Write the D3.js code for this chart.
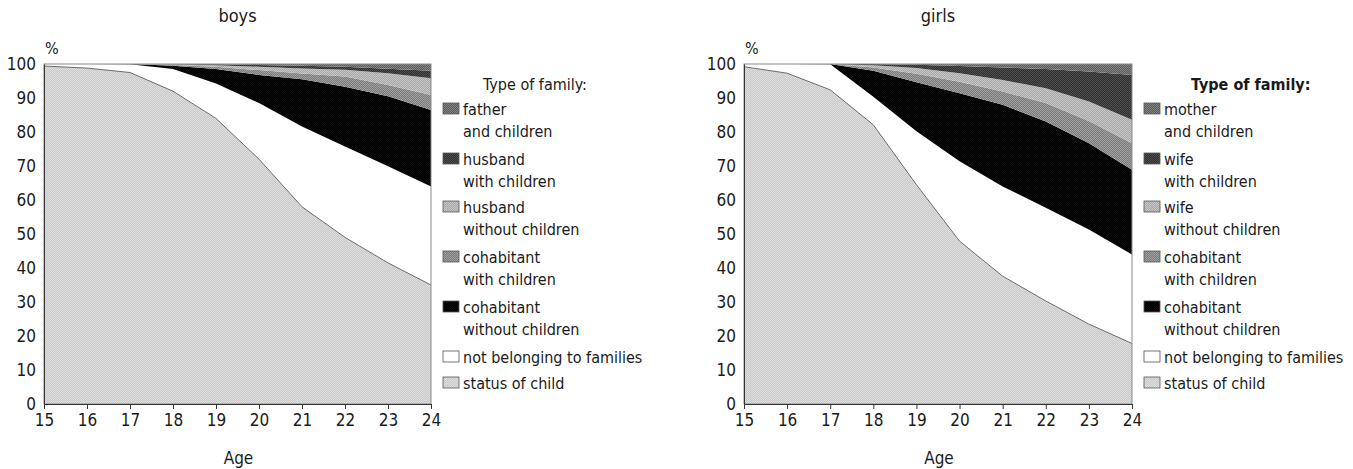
<!DOCTYPE html>
<html><head><meta charset="utf-8">
<script src="https://cdn.jsdelivr.net/npm/d3@7"></script>
<style>
body{margin:0;background:#fff;}
svg text{font-family:"Liberation Sans Narrow","Arial Narrow","DejaVu Sans Condensed",sans-serif;fill:#1a1a1a;}
</style></head>
<body><svg id="c" width="1353" height="469"></svg>
<script>
const ages = [15,16,17,18,19,20,21,22,23,24];
const yTicks = [0,10,20,30,40,50,60,70,80,90,100];
// boys series (%), bottom to top
const boysStatus    = [99.4,98.8,97.5,92,84,72,58,49,41.5,35];
const boysNotBelong = [0.6,1.2,2.4,6.5,10.3,16.5,23.6,26.7,28.4,29];
const boysCohabWo   = [0,0,0.1,1.0,4.2,8.3,13.9,17.6,20.6,22.5];
const boysCohabWith = [0,0,0,0.2,0.7,1.4,1.7,3.0,3.3,4.4];
const boysHusbWo    = [0,0,0,0.2,0.4,1.0,1.5,2.0,3.5,4.9];
const boysHusbWith  = [0,0,0,0.1,0.3,0.5,0.8,0.9,1.3,2.2];
const boysFather    = [0,0,0,0,0.1,0.3,0.5,0.8,1.4,2.0];
// girls series (%), bottom to top
const girlsStatus    = [99.2,97.3,92.4,82.1,64.5,47.9,37.6,30.3,23.5,17.8];
const girlsNotBelong = [0.8,2.7,7.5,8.3,15.7,23.5,26.4,27.4,27.8,26.2];
const girlsCohabWo   = [0,0,0.1,7.6,14.4,20.0,24.0,25.4,25.4,24.9];
const girlsCohabWith = [0,0,0,1.0,2.5,3.4,3.9,5.4,6.5,7.8];
const girlsWifeWo    = [0,0,0,0.6,1.7,2.5,3.4,4.4,5.8,6.9];
const girlsWifeWith  = [0,0,0,0.4,1.0,2.1,3.7,5.6,8.8,13.2];
const girlsMother    = [0,0,0,0,0.2,0.6,1.0,1.5,2.2,3.2];

const boysLabels = [["father","and children"],["husband","with children"],["husband","without children"],["cohabitant","with children"],["cohabitant","without children"],["not belonging to families"],["status of child"]];
const girlsLabels = [["mother","and children"],["wife","with children"],["wife","without children"],["cohabitant","with children"],["cohabitant","without children"],["not belonging to families"],["status of child"]];

const keys = ["status","notBelong","cohabWo","cohabWith","marriedWo","marriedWith","single"];
const fills = {status:["#c9c9c9","#dedede"], notBelong:["#ffffff","#ffffff"], cohabWo:["#000","#0a0a0a"],
  cohabWith:["#7a7a7a","#a0a0a0"], marriedWo:["#a8a8a8","#c6c6c6"], marriedWith:["#2e2e2e","#505050"], single:["#5a5a5a","#858585"]};

const svg = d3.select("#c");
const defs = svg.append("defs");
keys.forEach(k=>{
  const p = defs.append("pattern").attr("id","p_"+k).attr("width",2).attr("height",2).attr("patternUnits","userSpaceOnUse");
  p.append("rect").attr("width",2).attr("height",2).attr("fill",fills[k][0]);
  p.append("rect").attr("width",1).attr("height",1).attr("fill",fills[k][1]);
  p.append("rect").attr("x",1).attr("y",1).attr("width",1).attr("height",1).attr("fill",fills[k][1]);
});

function panel(x0, x1, title, series, labels, boldLegend){
  const x = d3.scaleLinear().domain([15,24]).range([x0,x1]);
  const y = d3.scaleLinear().domain([0,100]).range([404,64]);
  const rows = ages.map((a,i)=>{const r={age:a}; keys.forEach((k,j)=>r[k]=series[j][i]); return r;});
  const stack = d3.stack().keys(keys)(rows);
  const g = svg.append("g");
  const area = d3.area().x(d=>x(d.data.age)).y0(d=>y(d[0])).y1(d=>y(d[1]));
  g.selectAll("path.layer").data(stack).join("path").attr("class","layer")
    .attr("d",area).attr("fill",d=>"url(#p_"+d.key+")");
  // boundary of status layer
  g.append("path").attr("d", d3.line().x(d=>x(d.data.age)).y(d=>y(d[1]))(stack[0]))
    .attr("fill","none").attr("stroke","#6a6a6a").attr("stroke-width",1);
  // frame
  g.append("rect").attr("x",x0).attr("y",64).attr("width",x1-x0).attr("height",340)
    .attr("fill","none").attr("stroke","#8a8a8a").attr("stroke-width",1);
  // axes
  const xa = g.append("g").attr("transform","translate(0,404)")
    .call(d3.axisBottom(x).tickValues(ages).tickFormat(d3.format("d")).tickSize(5).tickPadding(5));
  xa.select(".domain").attr("stroke","#333");
  xa.selectAll(".tick line").attr("stroke","#333");
  xa.selectAll("text").attr("font-size",17).attr("fill","#1a1a1a").attr("font-family",null);
  const ya = g.append("g").attr("transform",`translate(${x0},0)`)
    .call(d3.axisLeft(y).tickValues(yTicks).tickSize(0).tickPadding(8));
  ya.select(".domain").attr("stroke","#333");
  ya.selectAll("text").attr("font-size",17).attr("fill","#1a1a1a").attr("font-family",null).attr("dy","0.35em");
  g.append("text").attr("x",x0+1).attr("y",54).attr("font-size",16).text("%");
  g.append("text").attr("x",(x0+x1)/2).attr("y",22).attr("text-anchor","middle").attr("font-size",18).text(title);
  g.append("text").attr("x",(x0+x1)/2 + 1).attr("y",464).attr("text-anchor","middle").attr("font-size",17).text("Age");
  // legend
  const lx = x1 + 12;
  g.append("text").attr("x", boldLegend ? lx+47 : lx+40).attr("y",90).attr("font-size",16)
    .attr("font-weight", boldLegend ? "bold":"normal").text("Type of family:");
  const rowY = [109,159,207,257,307,357,383];
  const legendKeys = keys.slice().reverse();
  labels.forEach((lab,i)=>{
    const yy = rowY[i];
    g.append("rect").attr("x",lx).attr("y",yy-6).attr("width",16).attr("height",11)
      .attr("fill","url(#p_"+legendKeys[i]+")").attr("stroke","#555").attr("stroke-width",0.8);
    lab.forEach((t,j)=>{
      g.append("text").attr("x",lx+20).attr("y",yy+6+j*22).attr("font-size",16).text(t);
    });
  });
}
panel(44,431,"boys",[boysStatus,boysNotBelong,boysCohabWo,boysCohabWith,boysHusbWo,boysHusbWith,boysFather],boysLabels,false);
panel(744,1132,"girls",[girlsStatus,girlsNotBelong,girlsCohabWo,girlsCohabWith,girlsWifeWo,girlsWifeWith,girlsMother],girlsLabels,true);
</script></body></html>
